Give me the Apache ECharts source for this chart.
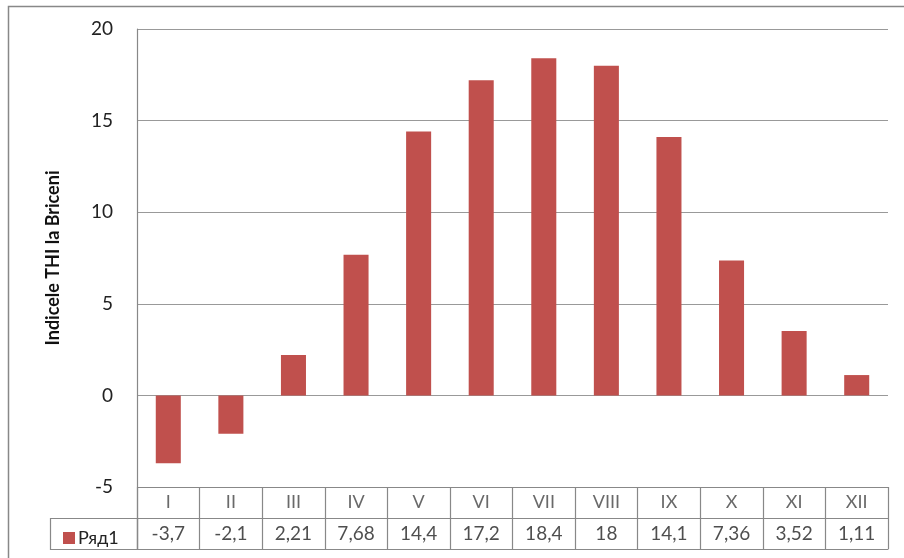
<!DOCTYPE html>
<html>
<head>
<meta charset="utf-8">
<script src="https://cdn.jsdelivr.net/npm/echarts@6/dist/echarts.min.js"></script>
<style>html,body{margin:0;padding:0;background:#fff}#c{width:904px;height:558px}</style>
</head>
<body>
<div id="c"></div>
<script>
var categories = ['I','II','III','IV','V','VI','VII','VIII','IX','X','XI','XII'];
var values = [-3.7, -2.1, 2.21, 7.68, 14.4, 17.2, 18.4, 18, 14.1, 7.36, 3.52, 1.11];
var valueLabels = ['-3,7','-2,1','2,21','7,68','14,4','17,2','18,4','18','14,1','7,36','3,52','1,11'];
var yTicks = [-5, 0, 5, 10, 15, 20];
var seriesName = 'Ряд1';
var yTitle = 'Indicele THI la Briceni';

var FONT = 'Lato';
var chart = echarts.init(document.getElementById('c'), null, {renderer:'canvas'});
var catRow = categories.map(function(c, i){ return {value:[c, 1.5], label:{formatter:c}}; });
var valRow = categories.map(function(c, i){ return {value:[c, 0.5], label:{formatter:valueLabels[i]}}; });
chart.setOption({
  animation:false,
  textStyle:{fontFamily:FONT},
  graphic:[
    {type:'rect', shape:{x:8.5,y:6.5,width:920,height:580}, style:{fill:'none',stroke:'#888',lineWidth:1.5}, z:-1},
    {type:'rect', shape:{x:50.5,y:518.5,width:87,height:31}, style:{fill:'none',stroke:'#888',lineWidth:1.2}}
  ],
  legend:{show:true, left:58, top:524, itemWidth:12, itemHeight:12, itemGap:4, icon:'rect',
    textStyle:{fontFamily:FONT,fontSize:18,color:'#222',padding:[0,0,0,-2]}, data:[seriesName]},
  grid:[
    {left:137, top:29, right:16, height:458, containLabel:false},
    {left:137, top:487, right:16, height:62, containLabel:false}
  ],
  xAxis:[
    {type:'category', gridIndex:0, data:categories, axisLine:{show:false}, axisTick:{show:false}, axisLabel:{show:false}, splitLine:{show:false}},
    {type:'category', gridIndex:1, data:categories, boundaryGap:true, position:'bottom',
     axisLine:{show:true,lineStyle:{color:'#888',width:1.2}}, axisTick:{show:false}, axisLabel:{show:false},
     splitLine:{show:true, interval:0, lineStyle:{color:'#888',width:1.2}}}
  ],
  yAxis:[
    {type:'value', gridIndex:0, min:-5, max:20, interval:5,
     axisLine:{show:true,lineStyle:{color:'#888',width:1.2}}, axisTick:{show:false},
     axisLabel:{fontFamily:FONT,fontSize:19,color:'#222',margin:24},
     splitLine:{show:true,lineStyle:{color:'#999',width:1.2}},
     name:yTitle, nameLocation:'middle', nameGap:75, nameRotate:90,
     nameTextStyle:{fontFamily:FONT,fontSize:18,fontWeight:'bold',color:'#111'}},
    {type:'value', gridIndex:1, min:0, max:2, interval:1,
     axisLine:{show:true,lineStyle:{color:'#888',width:1.2}}, axisTick:{show:false}, axisLabel:{show:false},
     splitLine:{show:true,lineStyle:{color:'#888',width:1.2}}}
  ],
  series:[
    {name:seriesName, type:'bar', xAxisIndex:0, yAxisIndex:0, data:values, barWidth:'40%',
     itemStyle:{color:'#C0504D'}},
    {type:'scatter', xAxisIndex:1, yAxisIndex:1, data:catRow, symbolSize:0, silent:true,
     label:{show:true, position:'inside', fontFamily:FONT, fontSize:18, color:'#444'}},
    {type:'scatter', xAxisIndex:1, yAxisIndex:1, data:valRow, symbolSize:0, silent:true,
     label:{show:true, position:'inside', fontFamily:FONT, fontSize:19, color:'#222'}}
  ]
});
</script>
</body>
</html>
